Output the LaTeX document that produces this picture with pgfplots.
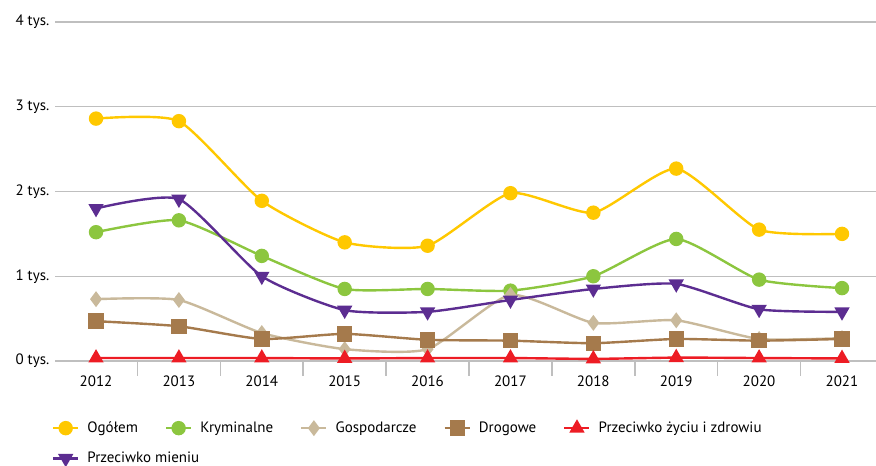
\documentclass[border=0pt]{standalone}
\usepackage{pgfplots}
\pgfplotsset{compat=1.18}
\usepackage{fontspec}
\setmainfont{PT Sans}
\definecolor{cOg}{HTML}{FFC800}
\definecolor{cKr}{HTML}{8CC63F}
\definecolor{cGo}{HTML}{C9B99B}
\definecolor{cDr}{HTML}{A57A4C}
\definecolor{cZy}{HTML}{ED1C24}
\definecolor{cMi}{HTML}{5C2D91}
\definecolor{gridgray}{HTML}{BFBFBF}
\begin{document}
\begin{tikzpicture}[x=1pt,y=1pt]
\useasboundingbox (0,0) rectangle (876,466);
\begin{axis}[
  at={(55pt,105pt)}, anchor=south west,
  scale only axis, width=821pt, height=339pt,
  xmin=2011.505, xmax=2021.41, ymin=0, ymax=4,
  axis x line=bottom, axis y line=left,
  x axis line style={draw=gridgray, line width=1.5pt, -},
  y axis line style={draw=none},
  xtick={2012,...,2021},
  minor xtick={2011.5,2012.5,2013.5,2014.5,2015.5,2016.5,2017.5,2018.5,2019.5,2020.5},
  major x tick style={draw=none},
  minor x tick style={draw=gridgray, line width=1.5pt},
  minor tick length=15pt,
  xtick align=outside,
  ytick={0,1,2,3,4},
  major y tick style={draw=none},
  ymajorgrids, grid style={draw=gridgray, line width=1.3pt},
  /pgf/number format/assume math mode=true,
  /pgf/number format/1000 sep={},
  xticklabel style={font=\fontsize{15}{17}\selectfont, yshift=-7pt},
  yticklabel={\pgfmathprintnumber{\tick} tys.},
  yticklabel style={font=\fontsize{15}{17}\selectfont},
  every axis plot/.append style={smooth, tension=0.35, line width=2.4pt},
  legend image code/.code={\draw[mark repeat=2,mark phase=2,line width=2.4pt] plot coordinates {(0pt,0pt)(12.5pt,0pt)(25pt,0pt)};},
  legend columns=5,
  legend cell align=left,
  legend style={at={(0,0)}, anchor=north west, xshift=-3pt, yshift=-59pt,
    draw=none, fill=none, inner sep=0pt, outer sep=0pt,
    font=\fontsize{15}{17}\selectfont, row sep=14pt,
    /tikz/every odd column/.append style={column sep=6pt},
    /tikz/every even column/.append style={column sep=25pt}},
]
\addplot[color=cOg, mark=*, mark size=6pt] coordinates {
(2012,2.86)(2013,2.83)(2014,1.89)(2015,1.40)(2016,1.36)(2017,1.98)(2018,1.75)(2019,2.27)(2020,1.55)(2021,1.50)};
\addlegendentry{Ogółem}
\addplot[color=cKr, mark=*, mark size=6pt] coordinates {
(2012,1.52)(2013,1.66)(2014,1.24)(2015,0.85)(2016,0.85)(2017,0.83)(2018,1.00)(2019,1.44)(2020,0.96)(2021,0.86)};
\addlegendentry{Kryminalne}
\addplot[color=cGo, mark=diamond*, mark size=6pt] coordinates {
(2012,0.73)(2013,0.72)(2014,0.33)(2015,0.14)(2016,0.14)(2017,0.78)(2018,0.45)(2019,0.48)(2020,0.26)(2021,0.27)};
\addlegendentry{Gospodarcze}
\addplot[color=cDr, mark=square*, mark size=6.5pt] coordinates {
(2012,0.47)(2013,0.41)(2014,0.26)(2015,0.32)(2016,0.25)(2017,0.24)(2018,0.21)(2019,0.26)(2020,0.24)(2021,0.26)};
\addlegendentry{Drogowe}
\addplot[color=cZy, mark=triangle*, mark size=6.5pt] coordinates {
(2012,0.035)(2013,0.035)(2014,0.035)(2015,0.03)(2016,0.035)(2017,0.035)(2018,0.025)(2019,0.04)(2020,0.035)(2021,0.03)};
\addlegendentry{Przeciwko życiu i zdrowiu}
\addplot[color=cMi, mark=triangle*, mark size=6.5pt, mark options={rotate=180}] coordinates {
(2012,1.80)(2013,1.91)(2014,1.00)(2015,0.60)(2016,0.58)(2017,0.72)(2018,0.85)(2019,0.91)(2020,0.61)(2021,0.58)};
\addlegendentry{\makebox[0pt][l]{Przeciwko mieniu}}
\end{axis}
\end{tikzpicture}
\end{document}
